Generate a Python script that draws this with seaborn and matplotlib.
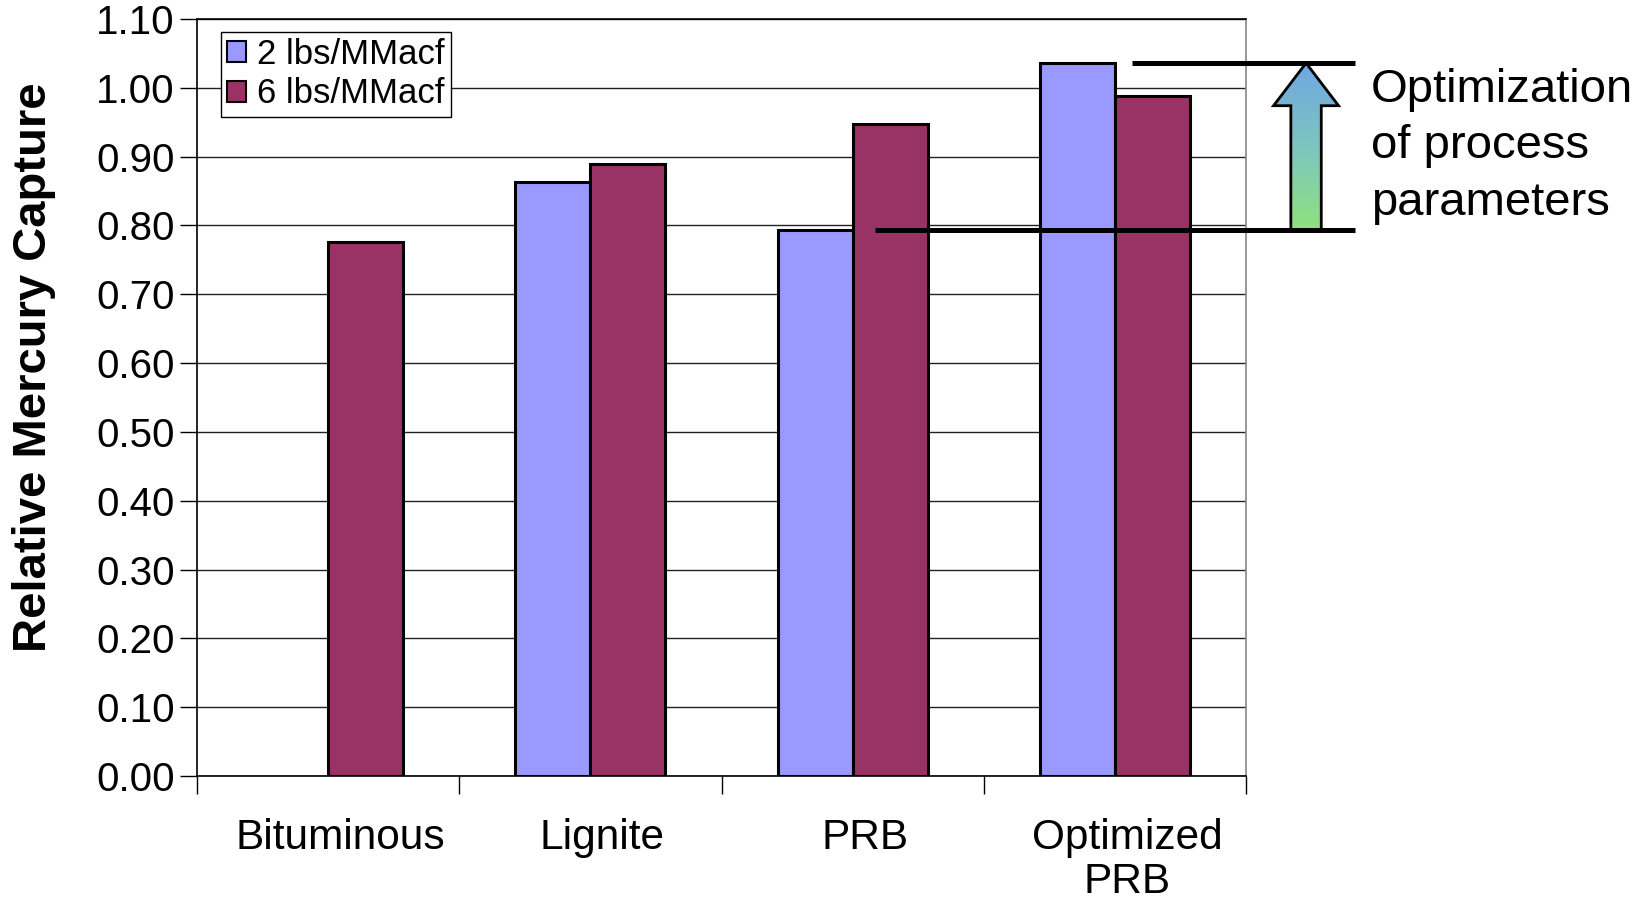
import numpy as np
import pandas as pd
import matplotlib
matplotlib.use("Agg")
import matplotlib.pyplot as plt
import matplotlib.transforms as mtransforms
import seaborn as sns
from matplotlib.patches import Polygon
from matplotlib.colors import LinearSegmentedColormap

# ---- data ----
categories = ["Bituminous", "Lignite", "PRB", "Optimized\nPRB"]
series_names = ["2 lbs/MMacf", "6 lbs/MMacf"]
values_2lbs = [np.nan, 0.863, 0.794, 1.036]
values_6lbs = [0.776, 0.890, 0.947, 0.988]
ytick_values = [0.0, 0.1, 0.2, 0.3, 0.4, 0.5, 0.6, 0.7, 0.8, 0.9, 1.0, 1.1]
annotation_text = "Optimization\nof process\nparameters"

df = pd.DataFrame({
    "category": categories * 2,
    "series": [series_names[0]] * 4 + [series_names[1]] * 4,
    "value": values_2lbs + values_6lbs,
})

sns.set_style("white")
plt.rcParams["font.family"] = ["Liberation Sans", "DejaVu Sans"]
plt.rcParams.update({"text.color": "black", "axes.labelcolor": "black",
                     "xtick.color": "black", "ytick.color": "black"})

W, H = 1644, 901
fig = plt.figure(figsize=(W / 100, H / 100), dpi=100)
ax = fig.add_axes([197 / W, 1 - 776 / H, 1049 / W, 757 / H])

palette = {series_names[0]: "#9999FF", series_names[1]: "#993366"}
sns.barplot(data=df, x="category", y="value", hue="series", order=categories,
            hue_order=series_names, palette=palette, saturation=1,
            edgecolor="black", linewidth=2.2, width=0.572, errorbar=None,
            ax=ax, zorder=3)

ax.set_xlim(-0.5, 3.5)
ax.set_ylim(0, 1.1)

# y axis
ax.set_yticks(ytick_values)
ax.set_yticklabels([f"{v:.2f}" for v in ytick_values], fontsize=29)
ax.tick_params(axis="y", left=True, direction="out", length=12, width=1,
               color="black", labelcolor="black", pad=4)
ax.yaxis.grid(True, color="#222222", lw=1)
ax.set_axisbelow(True)

# x axis: labels at centres, tick marks at category boundaries
ax.set_xticks(range(len(categories)))
ax.set_xticklabels(categories, fontsize=30.5)
ax.set_xticks(np.arange(-0.5, len(categories), 1.0), minor=True)
ax.tick_params(axis="x", which="major", bottom=True, length=0, pad=30,
               labelcolor="black")
ax.tick_params(axis="x", which="minor", bottom=True, direction="out",
               length=13, width=1, color="black")
shift = mtransforms.ScaledTranslation(0.12, 0, fig.dpi_scale_trans)
for t in ax.get_xticklabels():
    t.set_linespacing(1.15)
    t.set_transform(t.get_transform() + shift)
ax.set_xlabel("")

ax.set_ylabel("Relative Mercury Capture", fontsize=34, fontweight="bold")
ax.yaxis.label.set_va("center")
ax.yaxis.set_label_coords(-0.155, 0.54)

for s in ["left", "bottom", "top"]:
    ax.spines[s].set_color("black")
    ax.spines[s].set_linewidth(1.2)
ax.spines["right"].set_color("#888888")
ax.spines["right"].set_linewidth(1.2)

# legend
handles, labels = ax.get_legend_handles_labels()
leg = ax.legend(handles, labels, loc="upper left", bbox_to_anchor=(0.023, 0.983),
                fontsize=25, frameon=True, fancybox=False, framealpha=1,
                edgecolor="black", borderpad=0.18, labelspacing=0.18,
                handlelength=0.55, handleheight=0.55, handletextpad=0.3,
                borderaxespad=0)
leg.get_frame().set_linewidth(1.0)
for h in leg.legend_handles:
    h.set_edgecolor("black")
    h.set_linewidth(1.5)
for t in leg.get_texts():
    t.set_color("black")

# annotation: bracket lines and gradient arrow
y_low = values_2lbs[2]
y_high = values_2lbs[3]
ax.plot([3.065, 3.916], [y_high, y_high], color="black", lw=3.6,
        solid_capstyle="butt", clip_on=False, zorder=6)
ax.plot([2.085, 3.916], [y_low, y_low], color="black", lw=3.6,
        solid_capstyle="butt", clip_on=False, zorder=6)

cx, head_hw, shaft_hw, head_len = 3.729, 0.124, 0.058, 0.062
arrow_xy = [
    (cx - shaft_hw, y_low), (cx + shaft_hw, y_low),
    (cx + shaft_hw, y_high - head_len), (cx + head_hw, y_high - head_len),
    (cx, y_high), (cx - head_hw, y_high - head_len),
    (cx - shaft_hw, y_high - head_len),
]
poly = Polygon(arrow_xy, closed=True, facecolor="none", edgecolor="black",
               lw=2, clip_on=False, zorder=5, joinstyle="miter")
ax.add_patch(poly)
cmap = LinearSegmentedColormap.from_list("arr", ["#8EE27C", "#7DC5C0", "#6FA6E2"])
grad = np.linspace(0, 1, 256).reshape(-1, 1)
im = ax.imshow(grad, cmap=cmap, extent=[cx - head_hw, cx + head_hw, y_low, y_high],
               origin="lower", aspect="auto", interpolation="bilinear", zorder=4)
im.set_clip_path(poly)
im.set_clip_box(fig.bbox)
ax.set_xlim(-0.5, 3.5)
ax.set_ylim(0, 1.1)

ax.text(3.977, 0.915, annotation_text, fontsize=34, ha="left", va="center",
        linespacing=1.37, clip_on=False, color="black")

fig.savefig("out.png", dpi=100)
